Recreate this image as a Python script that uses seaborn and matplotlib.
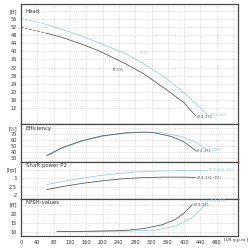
import numpy as np
import pandas as pd
import matplotlib
matplotlib.use("Agg")
import matplotlib.pyplot as plt
from matplotlib.ticker import AutoMinorLocator
import seaborn as sns

sns.set_style("white")
plt.rcParams['font.family'] = ['DejaVu Sans']

# ---- data (US g.p.m.) ----
head_flow_small = [0, 30, 63, 100, 150, 194, 255, 300, 350, 400, 428]
head_small = [52.0, 50.6, 49.0, 47.0, 43.5, 40.0, 34.0, 29.0, 22.0, 14.5, 8.0]
head_flow_large = [0, 30, 63, 100, 150, 200, 255, 300, 350, 400, 458]
head_large = [56.3, 55.0, 53.3, 51.0, 47.5, 43.5, 39.0, 34.0, 27.5, 19.5, 8.5]

eff_flow_small = [63, 100, 150, 200, 255, 295, 322, 368, 398, 428]
eff_small = [34, 47, 59, 67, 71.7, 73.0, 72.5, 66, 57.5, 42.7]
eff_flow_large = [65, 103, 155, 207, 264, 310, 342, 392, 425, 458]
eff_large = [34, 47, 59, 67, 71.7, 73.0, 72.5, 66, 57.5, 42.7]

pow_flow_small = [63, 100, 150, 200, 250, 300, 350, 400, 428]
pow_small = [2.32, 2.5, 2.7, 2.86, 2.98, 3.05, 3.08, 3.08, 3.06]
pow_flow_large = [63, 100, 150, 200, 250, 300, 350, 400, 458]
pow_large = [2.62, 2.8, 3.02, 3.2, 3.33, 3.42, 3.46, 3.48, 3.47]

npsh_flow_small = [88, 150, 200, 255, 300, 345, 378, 400, 420]
npsh_small = [10.4, 10.5, 10.7, 11.0, 12.0, 14.0, 16.9, 20.4, 25.0]
npsh_flow_large = [88, 150, 200, 255, 329, 378, 419, 443, 458]
npsh_large = [10.3, 10.4, 10.5, 10.6, 11.2, 13.3, 17.8, 22.8, 27.0]

x_ticks = [0, 40, 80, 120, 160, 200, 240, 280, 320, 360, 400, 440, 480]
head_ticks = [12, 16, 20, 24, 28, 32, 36, 40, 44, 48, 52, 56]
eff_ticks = [30, 40, 50, 60, 70]
pow_ticks = [2, 2.5, 3]
npsh_ticks = [10, 15, 20]

DARK = "#5c5c5c"
BLUE = "#9fcfdb"
GRID = "#cccccc"
FRAME = "#4a4a4a"

fig = plt.figure(figsize=(2.5, 2.5), dpi=100)
L, R = 21 / 250, 238 / 250
def pos(top, bot):
    return [L, 1 - bot / 250, R - L, (bot - top) / 250]

ax_h = fig.add_axes(pos(4, 124))
ax_e = fig.add_axes(pos(124, 162))
ax_p = fig.add_axes(pos(162, 199))
ax_n = fig.add_axes(pos(199, 236))

XMAX = 532
LAB = 2.7

def style(ax, ticks, unit, unit_pos, ylim, title, fmt=None, show_x=False):
    ax.set_xlim(0, XMAX)
    ax.set_ylim(*ylim)
    xt = x_ticks + [520]
    ax.set_xticks(xt)
    if show_x:
        ax.set_xticklabels([str(t) for t in x_ticks] + [""])
        ax.text(497, -0.06, "[US g.p.m.]", transform=ax.get_xaxis_transform(),
                fontsize=3.1, ha='left', va='top', color="#333333", clip_on=False)
    else:
        ax.set_xticklabels([])
    yt = list(ticks) + [unit_pos]
    ax.set_yticks(yt)
    labs = [(fmt(t) if fmt else str(t)) for t in ticks] + [unit]
    ax.set_yticklabels(labs)
    ax.yaxis.set_minor_locator(AutoMinorLocator(4))
    ax.tick_params(axis='both', which='major', labelsize=3.6, length=1.4, width=0.4,
                   pad=1.5, colors="#333333")
    ax.tick_params(axis='y', which='minor', length=0.8, width=0.3, colors="#333333")
    ax.tick_params(axis='x', which='major', length=0 if not show_x else 1.4)
    ax.grid(True, which='major', color=GRID, linestyle=(0, (2, 1.5)), linewidth=0.4)
    for s in ax.spines.values():
        s.set_color(FRAME)
        s.set_linewidth(0.9)
    ax.set_xlabel("")
    ax.set_ylabel("")
    ax.text(12, 0.96, title, transform=ax.get_xaxis_transform(), fontsize=3.9,
            va='top', ha='left', color="#333333")
    if ax.get_legend():
        ax.get_legend().remove()

def draw(ax, fx, fy, color, dash_until=None):
    df = pd.DataFrame({"q": fx, "v": fy})
    if dash_until is not None:
        d1 = df[df.q <= dash_until]
        d2 = df[df.q >= dash_until]
        sns.lineplot(data=d1, x="q", y="v", ax=ax, color=color, lw=0.6,
                     linestyle=(0, (3, 2)), sort=False, estimator=None)
        sns.lineplot(data=d2, x="q", y="v", ax=ax, color=color, lw=0.6, sort=False, estimator=None)
    else:
        sns.lineplot(data=df, x="q", y="v", ax=ax, color=color, lw=0.6, sort=False, estimator=None)

# Head
draw(ax_h, head_flow_large, head_large, BLUE, dash_until=63)
draw(ax_h, head_flow_small, head_small, DARK, dash_until=63)
style(ax_h, head_ticks, "[ft]", 60, (4, 63.5), "Head")
ax_h.text(252, 32.0, "74.5%", fontsize=LAB, color=DARK, ha='right', va='top')
ax_h.text(290, 38.0, "75%", fontsize=LAB, color=BLUE, ha='left', va='bottom')
ax_h.text(432, 7.5, "Ø 4.331", fontsize=LAB, color=DARK, ha='left', va='center')
ax_h.text(465, 8.5, "Ø 4.480", fontsize=LAB, color=BLUE, ha='left', va='center')

# Efficiency
draw(ax_e, eff_flow_large, eff_large, BLUE)
draw(ax_e, eff_flow_small, eff_small, DARK)
style(ax_e, eff_ticks, "[%]", 80, (23.5, 86.5), "Efficiency")
ax_e.text(430, 42, "Ø 4.331", fontsize=LAB, color=DARK, ha='left', va='center')
ax_e.text(465, 43, "4.480", fontsize=LAB, color=BLUE, ha='left', va='center')

# Shaft power
draw(ax_p, pow_flow_large, pow_large, BLUE)
draw(ax_p, pow_flow_small, pow_small, DARK)
style(ax_p, pow_ticks, "[hp]", 3.5, (1.75, 4.0), "Shaft power P2",
      fmt=lambda t: ("%g" % t))
ax_p.text(432, 3.06, "Ø 4.331 (P2)", fontsize=LAB, color=DARK, ha='left', va='center')
ax_p.text(462, 3.5, "Ø 4.480 (P2)", fontsize=LAB, color=BLUE, ha='left', va='center')

# NPSH
draw(ax_n, npsh_flow_large, npsh_large, BLUE)
draw(ax_n, npsh_flow_small, npsh_small, DARK)
style(ax_n, npsh_ticks, "[ft]", 25, (8, 28), "NPSH-values", show_x=True)
ax_n.text(424, 25.0, "Ø 4.331", fontsize=LAB, color=DARK, ha='left', va='center')
ax_n.text(464, 26.8, "Ø 4.480", fontsize=LAB, color=BLUE, ha='left', va='center')

fig.savefig("out.png", dpi=100)
